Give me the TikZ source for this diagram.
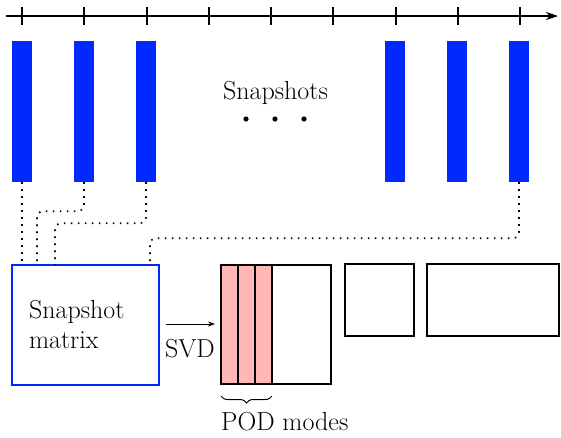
\documentclass[tikz,border=0pt]{standalone}
\usetikzlibrary{arrows.meta,decorations.pathreplacing}
\definecolor{barblue}{RGB}{0,40,255}
\definecolor{modepink}{RGB}{255,183,183}
\begin{document}
\begin{tikzpicture}[x=1pt,y=-1pt,
  every node/.style={font=\fontsize{26}{30}\selectfont},
  snapbar/.style={fill=barblue,draw=none,minimum width=20pt,minimum height=141pt,inner sep=0pt},
  tick/.style={line width=1.2pt},
  dotline/.style={line width=1.6pt,dash pattern=on 1.6pt off 5.4pt,rounded corners=6pt},
  box/.style={draw=black,line width=2pt,inner sep=0pt},
  mode/.style={box,fill=modepink,minimum width=17pt,minimum height=119pt}
]
\useasboundingbox (0,0) rectangle (561,437);
% timeline
\coordinate (t0) at (6,16);
\coordinate (t1) at (558,16);
\draw[line width=1.4pt,-{Stealth[length=12pt,width=8pt]}] (t0) -- (t1);
\foreach \x in {22,84,147,209,271,333,396,458,520}
  \draw[tick] (\x,7) -- (\x,25);
% bars
\foreach \x/\n in {22/1,84/2,146/3,395/4,457/5,519/6}
  \node[snapbar] (b\n) at (\x,111.5) {};
\node (lab) at (275.5,93) {Snapshots};
\foreach \x/\n in {246/1,275/2,304/3}
  \fill (\x,119) circle (2.6pt);
% snapshot matrix
\node[draw=barblue,line width=1.6pt,minimum width=147pt,minimum height=120pt,text width=113pt,align=left,inner sep=0pt] (sm) at (85.5,325) {Snapshot\\matrix};
\coordinate (e1) at (22,265);
\coordinate (e2) at (37,265);
\coordinate (e3) at (55,265);
\coordinate (e4) at (150,265);
\draw[dotline] (b1.south) -- (e1);
\draw[dotline] (b2.south) -- ++(0,29) -| (e2);
\draw[dotline] (b3.south) -- ++(0,41) -| (e3);
\draw[dotline] (b6.south) -- ++(0,56) -| (e4);
% SVD arrow
\coordinate (a0) at (166,324);
\node[box,minimum width=110pt,minimum height=119pt] (U) at (276,324.5) {};
\draw[line width=1pt,-{Stealth[length=7pt,width=5pt]}] (a0) -- ++(49,0) coordinate (a1);
\node (svd) at (190,349) {SVD};
\node[mode] (m1) at (229.5,324.5) {};
\node[mode] (m2) at (246.5,324.5) {};
\node[mode] (m3) at (263.5,324.5) {};
\node[box,minimum width=69pt,minimum height=72pt] (S) at (379.5,300) {};
\node[box,minimum width=132pt,minimum height=72pt] (V) at (493,300) {};
% brace
\draw[line width=1pt,decorate,decoration={brace,mirror,amplitude=7pt}] (221,396) -- (272,396);
\node[anchor=base west,inner sep=0pt] (pod) at (221,430) {POD modes};
\end{tikzpicture}
\end{document}
